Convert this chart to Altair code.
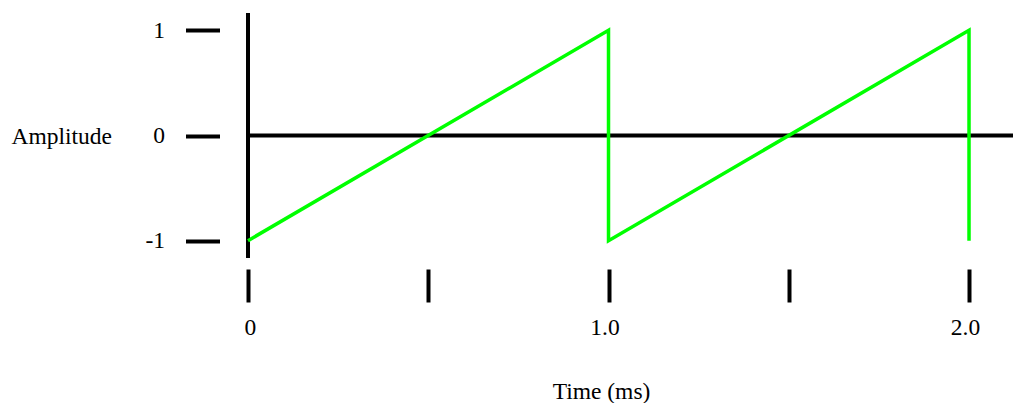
import altair as alt
import pandas as pd

# Sawtooth wave data (time in ms, amplitude)
time_ms = [0, 1.0, 1.0, 2.0, 2.0]
amplitude = [-1, 1, -1, 1, -1]

x_ticks = [0, 0.5, 1.0, 1.5, 2.0]
x_tick_labels = ["0", "", "1.0", "", "2.0"]
y_ticks = [-1, 0, 1]
y_tick_labels = ["-1", "0", "1"]

FONT = "Liberation Serif"
FS = 23.5

df = pd.DataFrame({"t": time_ms, "a": amplitude, "i": list(range(len(time_ms)))})


def label_expr(vals, labels):
    expr = "''"
    for v, l in reversed(list(zip(vals, labels))):
        expr = f"abs(datum.value - {v}) < 1e-9 ? '{l}' : ({expr})"
    return expr


x_scale = alt.Scale(domain=[0, 2.122], nice=False, zero=False)
y_scale = alt.Scale(domain=[-1.165, 1.165], nice=False, zero=False)

x_axis = alt.Axis(
    values=x_ticks,
    labelExpr=label_expr(x_ticks, x_tick_labels),
    domain=False, grid=False,
    ticks=True, tickSize=33, tickWidth=4, tickColor="black",
    offset=11,
    labelFont=FONT, labelFontSize=FS, labelColor="black",
    labelPadding=13, labelOffset=-4, labelBaseline="top",
    title="Time (ms)", titleFont=FONT, titleFontSize=FS, titleFontWeight="normal",
    titleColor="black", titleX=353, titleY=129, titleBaseline="alphabetic",
    titleAlign="center",
)

y_axis = alt.Axis(
    values=y_ticks,
    labelExpr=label_expr(y_ticks, y_tick_labels),
    domain=False, grid=False,
    ticks=True, tickSize=34, tickWidth=4, tickColor="black",
    offset=28.5,
    labelFont=FONT, labelFontSize=FS, labelColor="black",
    labelPadding=21, labelAlign="right", labelBaseline="middle",
    title="Amplitude", titleFont=FONT, titleFontSize=FS, titleFontWeight="normal",
    titleColor="black", titleAngle=0, titleAlign="left", titleBaseline="alphabetic",
    titleX=-208.5, titleY=130,
)

wave = alt.Chart(df).mark_line(color="#00ff00", strokeWidth=3.5).encode(
    x=alt.X("t:Q", scale=x_scale, axis=x_axis),
    y=alt.Y("a:Q", scale=y_scale, axis=y_axis),
    order=alt.Order("i:Q"),
)

zero_line = alt.Chart(pd.DataFrame({"a": [0]})).mark_rule(color="black", strokeWidth=4).encode(
    y=alt.Y("a:Q", scale=y_scale, axis=y_axis)
)

vert_line = alt.Chart(pd.DataFrame({"t": [0]})).mark_rule(color="black", strokeWidth=4).encode(
    x=alt.X("t:Q", scale=x_scale, axis=x_axis)
)

chart = alt.layer(zero_line, vert_line, wave).properties(
    width=765, height=245,
    autosize=alt.AutoSizeParams(type="none"),
    padding={"left": 240, "top": 5, "right": 0, "bottom": 145},
    background="white",
).configure_view(stroke=None)

chart.save("out.html", embed_options={"renderer": "svg", "actions": False})
